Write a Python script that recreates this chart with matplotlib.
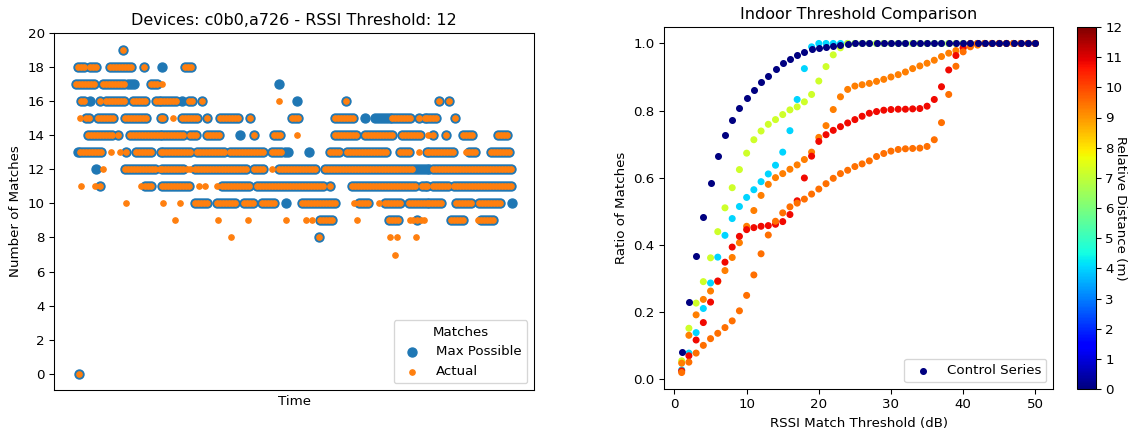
import numpy as np
import matplotlib
matplotlib.use("Agg")
import matplotlib.pyplot as plt
from matplotlib import cm, colors

# ---------------- Left panel data (time samples, runs of equal values) ----------------
# (matches, first_sample, last_sample) : samples where Max Possible == Actual
both_runs = [
    (19, 120, 120),
    (18, 75, 83), (18, 87, 93), (18, 107, 130), (18, 141, 141), (18, 183, 190),
    (17, 73, 92), (17, 100, 122), (17, 148, 155),
    (16, 78, 83), (16, 97, 97), (16, 103, 123), (16, 130, 142), (16, 153, 175), (16, 187, 192),
    (16, 200, 200), (16, 344, 344), (16, 438, 438), (16, 448, 448),
    (15, 83, 88), (15, 95, 112), (15, 122, 145), (15, 158, 163), (15, 180, 195), (15, 205, 205),
    (15, 218, 237), (15, 248, 248), (15, 290, 298), (15, 333, 352), (15, 390, 408), (15, 417, 417),
    (15, 423, 437), (15, 454, 454),
    (14, 85, 110), (14, 115, 115), (14, 127, 182), (14, 188, 195), (14, 205, 217), (14, 252, 252),
    (14, 272, 278), (14, 333, 355), (14, 363, 392), (14, 400, 420), (14, 432, 432), (14, 445, 445),
    (14, 462, 473), (14, 497, 508),
    (13, 77, 100), (13, 123, 123), (13, 133, 148), (13, 158, 188), (13, 195, 222), (13, 228, 262),
    (13, 270, 280), (13, 328, 338), (13, 345, 385), (13, 398, 408), (13, 425, 453), (13, 468, 475),
    (13, 490, 508),
    (12, 122, 153), (12, 160, 182), (12, 193, 245), (12, 252, 263), (12, 277, 315), (12, 323, 410),
    (12, 432, 512),
    (11, 97, 97), (11, 142, 150), (11, 160, 187), (11, 220, 247), (11, 255, 322), (11, 328, 328),
    (11, 350, 415), (11, 420, 428), (11, 432, 448), (11, 453, 510),
    (10, 193, 207), (10, 215, 233), (10, 242, 253), (10, 260, 273), (10, 300, 333), (10, 357, 368),
    (10, 383, 400), (10, 407, 440), (10, 455, 472), (10, 478, 500),
    (9, 318, 330), (9, 387, 398), (9, 415, 415), (9, 450, 463), (9, 480, 493),
    (8, 317, 317),
    (0, 76, 76),
]
# samples where only the Max Possible value is at this level
max_only_runs = [
    (18, 160, 160), (17, 125, 132), (17, 277, 277), (16, 87, 87), (16, 180, 180), (16, 295, 295),
    (15, 363, 363), (15, 373, 388), (14, 238, 238), (13, 75, 75), (13, 283, 287), (13, 307, 307),
    (12, 93, 93), (12, 413, 428), (10, 284, 284), (10, 511, 511),
]
# isolated Actual values below the max
actual_only_level = [17, 16, 15, 15, 14, 14, 13, 13, 13, 13, 12, 12, 12, 12, 12,
                     11, 11, 11, 11, 11, 11, 10, 10, 10, 10, 10,
                     9, 9, 9, 9, 9, 9, 9, 9, 9, 9, 9, 9, 8, 8, 8, 8, 7]
actual_only_time = [160, 277, 77, 171, 295, 427, 108, 117, 417, 465, 100, 157, 185, 188, 270,
                    78, 92, 138, 197, 203, 215, 123, 161, 178, 352, 377,
                    173, 216, 246, 284, 304, 310, 355, 408, 411, 419, 422, 477, 229, 388, 395, 414, 393]
SAMPLE_STEP = 3

# ---------------- Right panel data ----------------
thresholds = np.arange(1, 51)
control_ratio = [0.08, 0.23, 0.367, 0.484, 0.584, 0.664, 0.726, 0.773, 0.808, 0.837,
                 0.86, 0.884, 0.904, 0.925, 0.942, 0.955, 0.967, 0.976, 0.982, 0.986,
                 0.99, 0.993, 0.996, 0.998] + [1.0] * 26
dist_a = 4.0
ratio_a = [0.027, 0.077, 0.138, 0.21, 0.286, 0.363, 0.428, 0.478, 0.514, 0.541,
           0.564, 0.588, 0.611, 0.637, 0.676, 0.74, 0.833, 0.925, 0.99] + [1.0] * 31
dist_b = 7.2
ratio_b = [0.054, 0.151, 0.226, 0.29, 0.361, 0.439, 0.51, 0.57, 0.624, 0.673,
           0.713, 0.739, 0.759, 0.773, 0.788, 0.802, 0.811, 0.826, 0.848, 0.888,
           0.931, 0.966, 0.987] + [1.0] * 27
dist_c = 9.3
ratio_c = [0.047, 0.13, 0.191, 0.237, 0.262, 0.29, 0.323, 0.362, 0.406, 0.455,
           0.502, 0.547, 0.58, 0.6, 0.612, 0.625, 0.638, 0.654, 0.676, 0.72,
           0.755, 0.803, 0.841, 0.863, 0.873, 0.877, 0.881, 0.887, 0.893, 0.9,
           0.907, 0.915, 0.925, 0.933, 0.941, 0.95, 0.961, 0.971, 0.979, 0.987,
           0.992, 0.995] + [1.0] * 8
dist_d = 10.8
ratio_d = [0.024, 0.069, 0.116, 0.168, 0.229, 0.292, 0.348, 0.393, 0.425, 0.445,
           0.451, 0.455, 0.457, 0.461, 0.469, 0.49, 0.531, 0.599, 0.664, 0.708,
           0.728, 0.741, 0.752, 0.763, 0.773, 0.783, 0.792, 0.797, 0.801, 0.803,
           0.804, 0.804, 0.805, 0.806, 0.813, 0.833, 0.871, 0.921, 0.964, 0.987] + [1.0] * 10
dist_e = 9.5
ratio_e = [0.019, 0.05, 0.077, 0.1, 0.12, 0.136, 0.153, 0.173, 0.203, 0.249,
           0.31, 0.373, 0.429, 0.47, 0.495, 0.513, 0.524, 0.536, 0.551, 0.566,
           0.582, 0.598, 0.612, 0.622, 0.633, 0.641, 0.65, 0.663, 0.672, 0.679,
           0.684, 0.686, 0.687, 0.688, 0.693, 0.713, 0.764, 0.848, 0.932, 0.975,
           0.99] + [1.0] * 9
distances = [dist_a, dist_b, dist_c, dist_d, dist_e]
ratios = [ratio_a, ratio_b, ratio_c, ratio_d, ratio_e]


def expand(runs):
    t, v = [], []
    for lvl, s, e in runs:
        pts = np.arange(s, e + 0.01, SAMPLE_STEP)
        t.extend(pts)
        v.extend([lvl] * len(pts))
    return np.array(t, float), np.array(v, float)


bt, bv = expand(both_runs)
mt, mv = expand(max_only_runs)
max_t = np.concatenate([bt, mt])
max_v = np.concatenate([bv, mv])
act_t = np.concatenate([bt, np.array(actual_only_time, float)])
act_v = np.concatenate([bv, np.array(actual_only_level, float)])

DPI = 96
W, H = 1129, 432
fig = plt.figure(figsize=(W / DPI, H / DPI), dpi=DPI)
ax1 = fig.add_axes([54 / W, 1 - 390 / H, 480 / W, 357 / H])
ax2 = fig.add_axes([664 / W, 1 - 389 / H, 389 / W, 362 / H])
cax = fig.add_axes([1077 / W, 1 - 389 / H, 19 / W, 362 / H])

ax1.scatter(max_t, max_v, s=46, color="C0", label="Max Possible")
ax1.scatter(act_t, act_v, s=16, color="C1", label="Actual")
ax1.set_ylim(-0.95, 19.95)
ax1.set_yticks(np.arange(0, 21, 2))
ax1.set_xticks([])
ax1.set_xlabel("Time")
ax1.set_ylabel("Number of Matches")
ax1.set_title("Devices: c0b0,a726 - RSSI Threshold: 12")
ax1.legend(title="Matches", loc="lower right")

cmap = plt.get_cmap("jet")
norm = colors.Normalize(vmin=0, vmax=12)
for d, r in zip(distances, ratios):
    ax2.scatter(thresholds, r, s=18, c=[d] * len(thresholds), cmap=cmap, norm=norm)
ax2.scatter(thresholds, control_ratio, s=18, color=cmap(norm(0)), label="Control Series")
ax2.set_xlabel("RSSI Match Threshold (dB)")
ax2.set_ylabel("Ratio of Matches")
ax2.set_title("Indoor Threshold Comparison")
ax2.set_xticks(np.arange(0, 51, 10))
ax2.legend(loc="lower right")

cb = fig.colorbar(cm.ScalarMappable(norm=norm, cmap=cmap), cax=cax)
cb.set_ticks(np.arange(0, 13, 1))
cb.set_label("Relative Distance (m)", rotation=270, va="center", ha="center")
cb.ax.yaxis.set_label_coords((1120 - 1077) / 19, 0.5)

fig.savefig("out.png", dpi=DPI)
